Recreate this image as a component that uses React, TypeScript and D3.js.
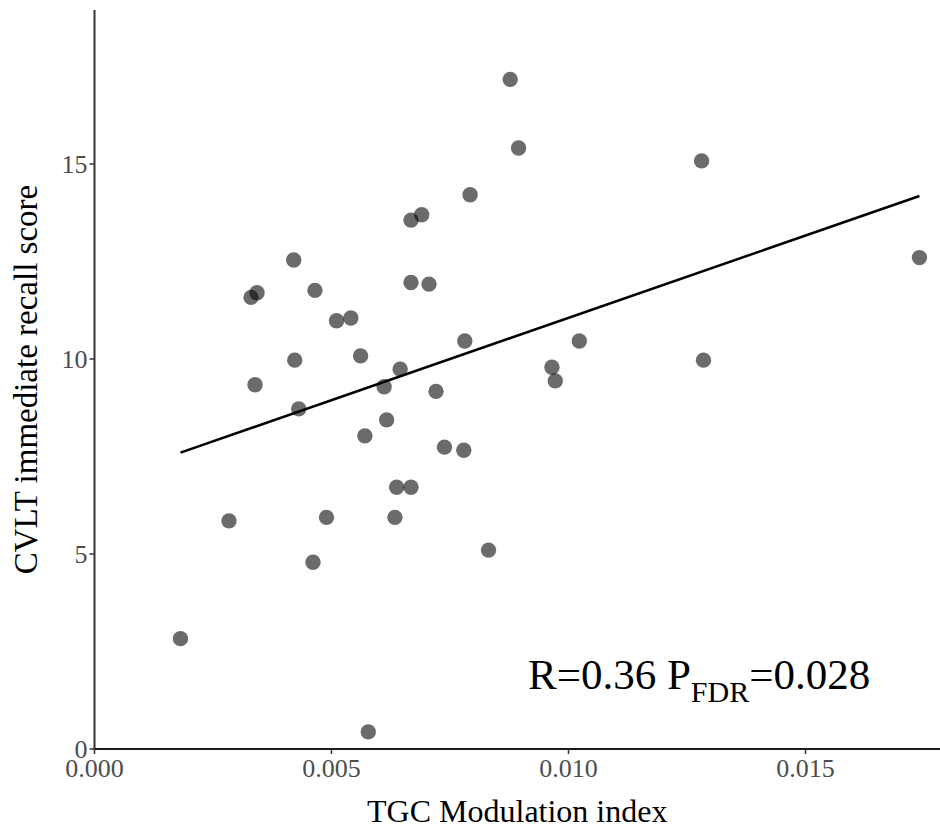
import React from "react";
import * as d3 from "d3";

const modulationIndex = [
  0.001814, 0.002837, 0.003302, 0.003429, 0.003387, 0.004203, 0.004224, 0.004309,
  0.004609, 0.004651, 0.004894, 0.005106, 0.005408, 0.005613, 0.005704, 0.005776,
  0.00611, 0.006163, 0.006338, 0.006374, 0.006448, 0.006677, 0.006903, 0.006677,
  0.007057, 0.007205, 0.007383, 0.007791, 0.007812, 0.007924, 0.008313, 0.00877,
  0.008947, 0.009651, 0.009721, 0.010228, 0.012808, 0.012848, 0.017404, 0.006677,
];
const recallScore = [
  2.83, 5.85, 11.58, 11.7, 9.34, 12.54, 9.97, 8.72,
  4.79, 11.76, 5.94, 10.98, 11.05, 10.08, 8.03, 0.44,
  9.29, 8.44, 5.94, 6.71, 9.74, 13.56, 13.7, 11.96,
  11.92, 9.17, 7.74, 7.66, 10.46, 14.21, 5.1, 17.17,
  15.41, 9.79, 9.44, 10.46, 15.08, 9.97, 12.6, 6.71,
];
const fitX = [0.001814, 0.017404];
const fitY = [7.6, 14.18];
const xTicks = [0, 0.005, 0.01, 0.015];
const yTicks = [0, 5, 10, 15];
const xTitle = "TGC Modulation index";
const yTitle = "CVLT immediate recall score";

const W = 940;
const H = 833;
const left = 94.5;
const right = 940;
const top = 10;
const bottom = 749;
const font = "'Liberation Serif', 'Times New Roman', serif";

export default function App() {
  const x = d3.scaleLinear().domain([0, (right - left) / 47400]).range([left, right]);
  const y = d3.scaleLinear().domain([0, (bottom - top) / 39]).range([bottom, top]);
  const line = d3
    .line<number>()
    .x((d) => x(fitX[d]))
    .y((d) => y(fitY[d]));

  return (
    <svg width={W} height={H} style={{ position: "absolute", left: 0, top: 0, background: "#fff" }}>
      <rect width={W} height={H} fill="#fff" />
      {/* axes */}
      <line x1={left} x2={left} y1={top} y2={bottom} stroke="#333" strokeWidth={2} />
      <line x1={left} x2={right} y1={bottom} y2={bottom} stroke="#1a1a1a" strokeWidth={2} />
      {yTicks.map((t) => (
        <g key={"y" + t}>
          <line x1={left - 5} x2={left} y1={y(t)} y2={y(t)} stroke="#333" strokeWidth={1.5} />
          <text
            x={left - 7}
            y={y(t)}
            dy="0.35em"
            textAnchor="end"
            fontFamily={font}
            fontSize={26}
            fill="#4d4d4d"
          >
            {t}
          </text>
        </g>
      ))}
      {xTicks.map((t) => (
        <g key={"x" + t}>
          <line x1={x(t)} x2={x(t)} y1={bottom} y2={bottom + 5} stroke="#333" strokeWidth={1.5} />
          <text
            x={x(t)}
            y={777}
            textAnchor="middle"
            fontFamily={font}
            fontSize={26}
            fill="#4d4d4d"
          >
            {d3.format(".3f")(t)}
          </text>
        </g>
      ))}
      {/* points */}
      {modulationIndex.map((v, i) => (
        <circle key={i} cx={x(v)} cy={y(recallScore[i])} r={7.7} fill="#000" fillOpacity={0.58} />
      ))}
      {/* fit line */}
      <path d={line([0, 1]) || ""} fill="none" stroke="#000" strokeWidth={2.5} />
      {/* titles */}
      <text
        x={(left + right) / 2}
        y={822}
        textAnchor="middle"
        fontFamily={font}
        fontSize={32}
        fill="#000"
      >
        {xTitle}
      </text>
      <text
        transform={`translate(37,${(top + bottom) / 2}) rotate(-90)`}
        textAnchor="middle"
        fontFamily={font}
        fontSize={33}
        fill="#000"
      >
        {yTitle}
      </text>
      {/* annotation */}
      <text x={528} y={689} fontFamily={font} fontSize={43} fill="#000">
        R=0.36 P
        <tspan fontSize={30} dy={13}>FDR</tspan>
        <tspan dy={-13}>=0.028</tspan>
      </text>
    </svg>
  );
}
